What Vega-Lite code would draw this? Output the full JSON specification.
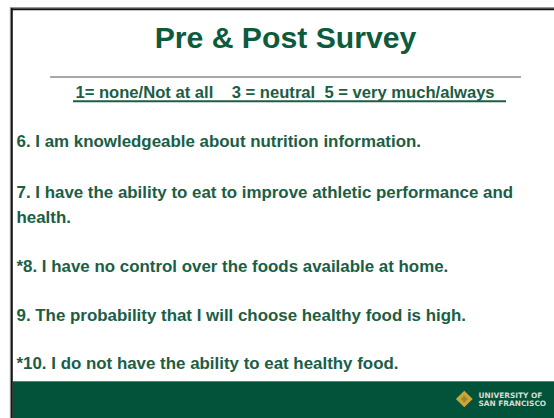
{
  "$schema": "https://vega.github.io/schema/vega-lite/v6.json",
  "width": 554,
  "height": 418,
  "padding": 0,
  "autosize": {"type": "none"},
  "background": "#ffffff",
  "config": {"view": {"stroke": null}},
  "datasets": {
    "texts": [
      {"role": "title", "text": "Pre & Post Survey", "x": 285.5, "y": 48.3},
      {"role": "scale", "text": "1= none/Not at all\u00a0\u00a0\u00a0\u00a03 = neutral\u00a0\u00a05 = very much/always", "x": 285, "y": 97.5},
      {"role": "item", "text": "6. I am knowledgeable about nutrition information.", "x": 16.5, "y": 146.7},
      {"role": "item", "text": "7. I have the ability to eat to improve athletic performance and\nhealth.", "x": 16.5, "y": 198},
      {"role": "item", "text": "*8. I have no control over the foods available at home.", "x": 16.5, "y": 271.5},
      {"role": "item", "text": "9. The probability that I will choose healthy food is high.", "x": 16.5, "y": 320.7},
      {"role": "item", "text": "*10. I do not have the ability to eat healthy food.", "x": 16.5, "y": 369.3}
    ],
    "logo": [
      {"text": "UNIVERSITY OF", "x": 478.5, "y": 397.6},
      {"text": "SAN FRANCISCO", "x": 478.5, "y": 406.3}
    ]
  },
  "encoding": {
    "x": {"type": "quantitative", "scale": {"domain": [0, 554], "nice": false, "zero": false}, "axis": null},
    "y": {"type": "quantitative", "scale": {"domain": [0, 418], "nice": false, "zero": false, "reverse": true}, "axis": null}
  },
  "layer": [
    {
      "data": {"values": [{}]},
      "mark": {"type": "rect", "color": "#03533b"},
      "encoding": {"x": {"datum": 12.7}, "x2": {"datum": 554}, "y": {"datum": 381}, "y2": {"datum": 418}}
    },
    {
      "data": {"values": [{}]},
      "mark": {"type": "rule", "color": "#4f8872", "strokeWidth": 1},
      "encoding": {"x": {"datum": 12.7}, "x2": {"datum": 554}, "y": {"datum": 381.5}}
    },
    {
      "data": {"values": [{}]},
      "mark": {"type": "rule", "color": "#9a9a9a", "strokeWidth": 1},
      "encoding": {"x": {"datum": 10}, "x2": {"datum": 554}, "y": {"datum": 7.5}}
    },
    {
      "data": {"values": [{}]},
      "mark": {"type": "rule", "color": "#9a9a9a", "strokeWidth": 1},
      "encoding": {"x": {"datum": 10.3}, "y": {"datum": 7.5}, "y2": {"datum": 418}}
    },
    {
      "data": {"values": [{}]},
      "mark": {"type": "rule", "color": "#151515", "strokeWidth": 2},
      "encoding": {"x": {"datum": 11}, "x2": {"datum": 554}, "y": {"datum": 9.2}}
    },
    {
      "data": {"values": [{}]},
      "mark": {"type": "rule", "color": "#151515", "strokeWidth": 2},
      "encoding": {"x": {"datum": 11.8}, "y": {"datum": 8.3}, "y2": {"datum": 418}}
    },
    {
      "data": {"values": [{}]},
      "mark": {"type": "rule", "color": "#a8a8a8", "strokeWidth": 2},
      "encoding": {"x": {"datum": 50}, "x2": {"datum": 521}, "y": {"datum": 77}}
    },
    {
      "data": {"values": [{}]},
      "mark": {"type": "rule", "color": "#1b5e45", "strokeWidth": 2},
      "encoding": {"x": {"datum": 73}, "x2": {"datum": 506}, "y": {"datum": 101.3}}
    },
    {
      "data": {"name": "texts"},
      "transform": [{"filter": "datum.role === 'title'"}],
      "mark": {"type": "text", "font": "Liberation Sans", "fontWeight": "bold", "fontSize": 30.2, "color": "#0e5a3c", "align": "center", "baseline": "alphabetic"},
      "encoding": {"x": {"field": "x", "type": "quantitative"}, "y": {"field": "y", "type": "quantitative"}, "text": {"field": "text"}}
    },
    {
      "data": {"name": "texts"},
      "transform": [{"filter": "datum.role === 'scale'"}],
      "mark": {"type": "text", "font": "Liberation Sans", "fontWeight": "bold", "fontSize": 16.6, "color": "#1b5e45", "align": "center", "baseline": "alphabetic"},
      "encoding": {"x": {"field": "x", "type": "quantitative"}, "y": {"field": "y", "type": "quantitative"}, "text": {"field": "text"}}
    },
    {
      "data": {"name": "texts"},
      "transform": [{"filter": "datum.role === 'item'"}],
      "mark": {"type": "text", "font": "Liberation Sans", "fontWeight": "bold", "fontSize": 16.9, "color": "#1b5e45", "align": "left", "baseline": "alphabetic", "lineBreak": "\n", "lineHeight": 24.5},
      "encoding": {"x": {"field": "x", "type": "quantitative"}, "y": {"field": "y", "type": "quantitative"}, "text": {"field": "text"}}
    },
    {
      "data": {"values": [{}]},
      "mark": {"type": "point", "shape": "diamond", "filled": true, "color": "#c9a83a", "size": 280, "opacity": 1},
      "encoding": {"x": {"datum": 464.3}, "y": {"datum": 399}}
    },
    {
      "data": {"values": [{}]},
      "mark": {"type": "point", "shape": "cross", "filled": true, "color": "#8a7a2a", "size": 40, "opacity": 0.7},
      "encoding": {"x": {"datum": 464.3}, "y": {"datum": 399}}
    },
    {
      "data": {"name": "logo"},
      "mark": {"type": "text", "font": "DejaVu Sans", "fontWeight": "bold", "fontSize": 7.4, "color": "#d6dbd2", "align": "left", "baseline": "alphabetic"},
      "encoding": {"x": {"field": "x", "type": "quantitative"}, "y": {"field": "y", "type": "quantitative"}, "text": {"field": "text"}}
    }
  ]
}
